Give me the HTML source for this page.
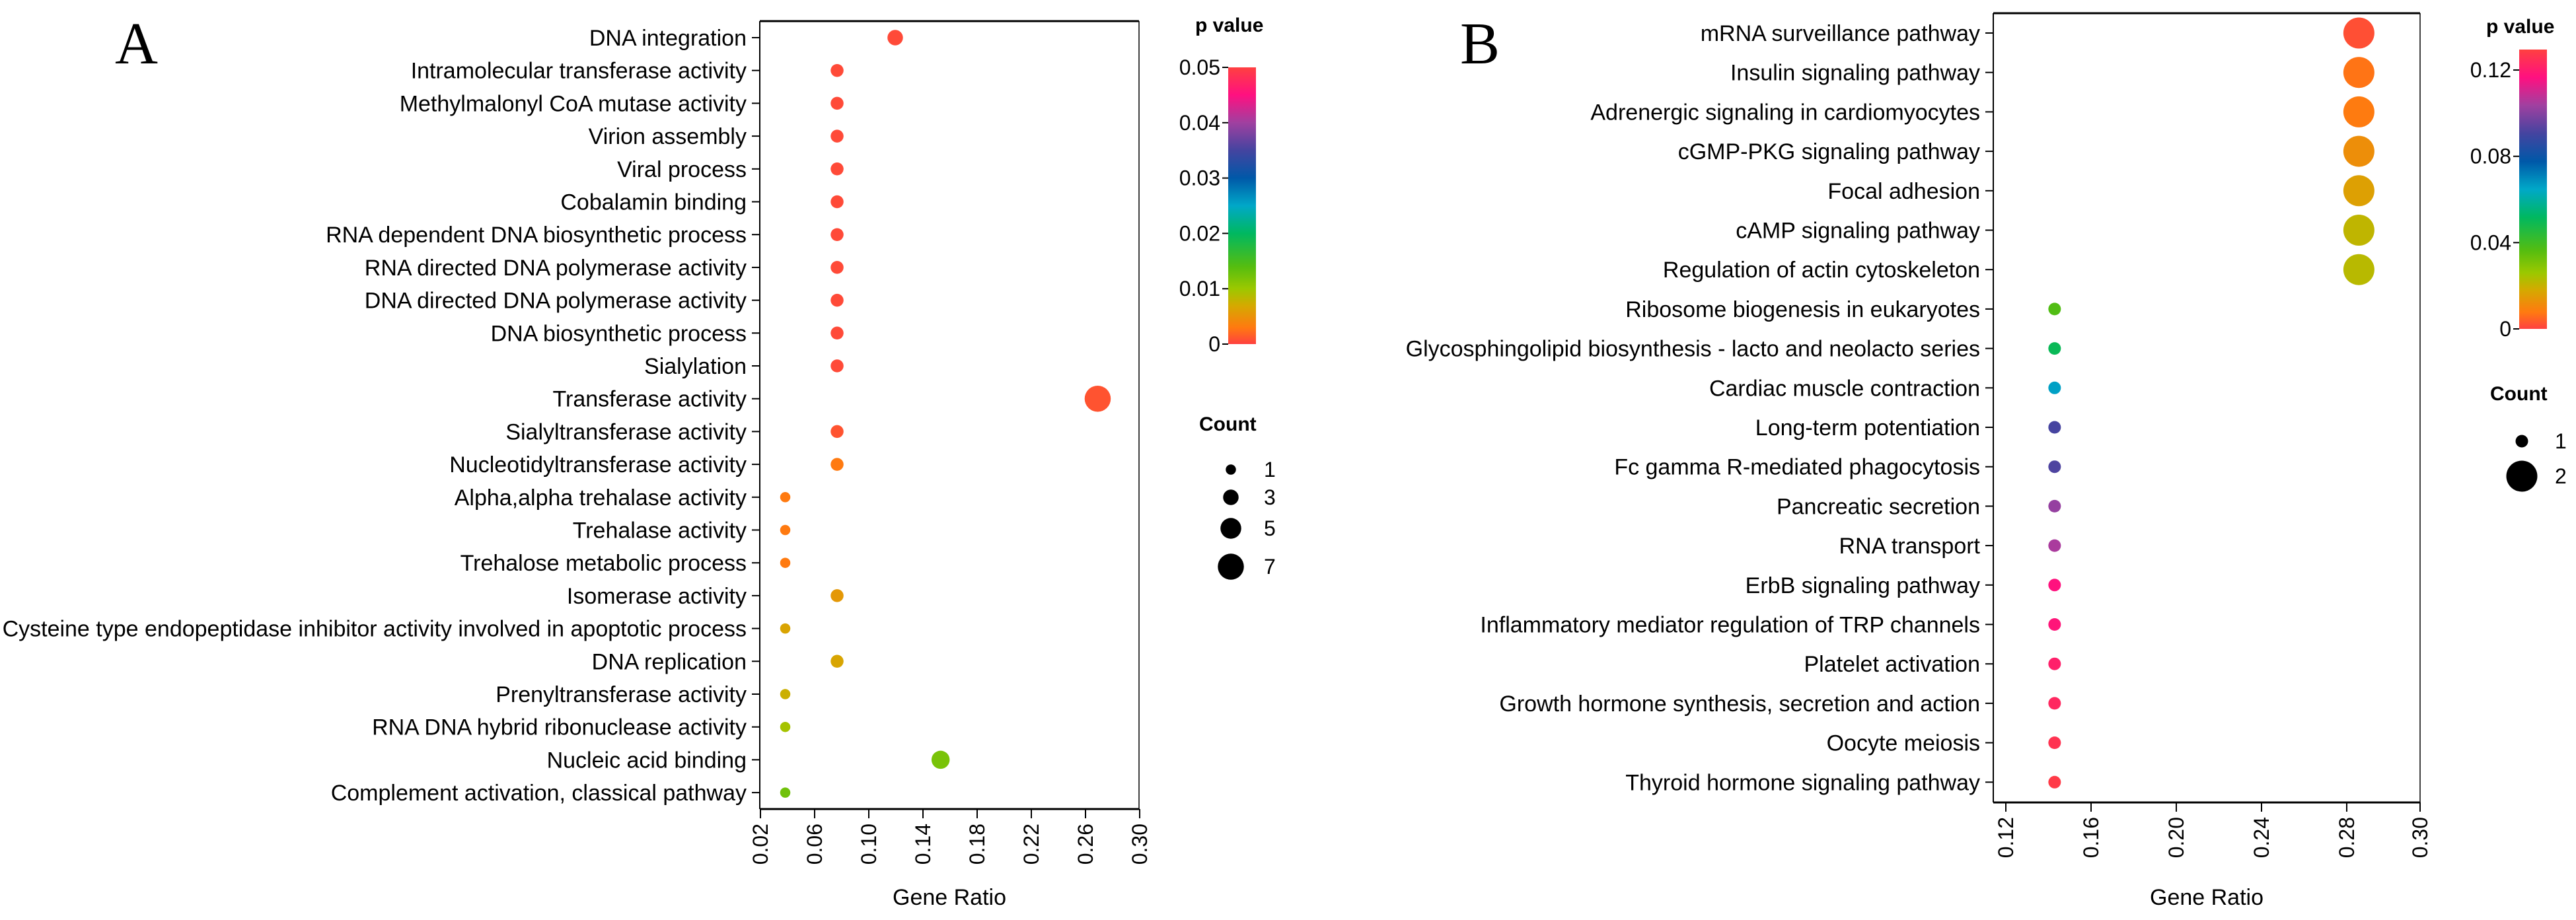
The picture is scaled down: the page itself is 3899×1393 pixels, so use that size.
<!DOCTYPE html>
<html><head><meta charset="utf-8"><style>
html,body{margin:0;padding:0;background:#fff;}
svg{display:block;font-family:"Liberation Sans",Arial,sans-serif;}
</style></head><body>
<svg id="c" width="3899" height="1393" viewBox="0 0 3899 1393" xmlns="http://www.w3.org/2000/svg">
<defs>
<linearGradient id="pg" x1="0" y1="1" x2="0" y2="0">
<stop offset="0" stop-color="#ff4040"/><stop offset="0.06" stop-color="#ff7a10"/><stop offset="0.14" stop-color="#d4aa00"/><stop offset="0.2" stop-color="#9cc800"/><stop offset="0.28" stop-color="#55bd10"/><stop offset="0.4" stop-color="#00b860"/><stop offset="0.5" stop-color="#00a8c8"/><stop offset="0.6" stop-color="#0058a8"/><stop offset="0.7" stop-color="#4444a0"/><stop offset="0.8" stop-color="#a040a0"/><stop offset="0.9" stop-color="#ff1080"/><stop offset="1" stop-color="#ff4040"/>
</linearGradient>
</defs>
<text x="174" y="96" font-family="Liberation Serif,serif" font-size="90">A</text>
<text x="2210" y="96" font-family="Liberation Serif,serif" font-size="90">B</text>
<g id="pa"></g>
<g id="pb"></g>
</svg>
<script>
const aTerms=["DNA integration","Intramolecular transferase activity","Methylmalonyl CoA mutase activity","Virion assembly","Viral process","Cobalamin binding","RNA dependent DNA biosynthetic process","RNA directed DNA polymerase activity","DNA directed DNA polymerase activity","DNA biosynthetic process","Sialylation","Transferase activity","Sialyltransferase activity","Nucleotidyltransferase activity","Alpha,alpha trehalase activity","Trehalase activity","Trehalose metabolic process","Isomerase activity","Cysteine type endopeptidase inhibitor activity involved in apoptotic process","DNA replication","Prenyltransferase activity","RNA DNA hybrid ribonuclease activity","Nucleic acid binding","Complement activation, classical pathway"];
const aRatio=[0.1195,0.0766,0.0766,0.0766,0.0766,0.0766,0.0766,0.0766,0.0766,0.0766,0.0766,0.269,0.0766,0.0766,0.0383,0.0383,0.0383,0.0766,0.0383,0.0766,0.0383,0.0383,0.153,0.0383];
const aCount=[3,2,2,2,2,2,2,2,2,2,2,7,2,2,1,1,1,2,1,2,1,1,4,1];
const aP=[0.0005,0.0005,0.0005,0.0005,0.0005,0.0005,0.0005,0.0005,0.0005,0.0005,0.0005,0.001,0.001,0.003,0.003,0.003,0.003,0.0055,0.0065,0.0066,0.0075,0.0095,0.012,0.0125];
const aTicks=[0.02,0.06,0.10,0.14,0.18,0.22,0.26,0.30];
const aTickLabels=["0.02","0.06","0.10","0.14","0.18","0.22","0.26","0.30"];
const aPTicks=[0,0.01,0.02,0.03,0.04,0.05];
const aPTickLabels=["0","0.01","0.02","0.03","0.04","0.05"];
const aLegendCounts=[1,3,5,7];

const bTerms=["mRNA surveillance pathway","Insulin signaling pathway","Adrenergic signaling in cardiomyocytes","cGMP-PKG signaling pathway","Focal adhesion","cAMP signaling pathway","Regulation of actin cytoskeleton","Ribosome biogenesis in eukaryotes","Glycosphingolipid biosynthesis - lacto and neolacto series","Cardiac muscle contraction","Long-term potentiation","Fc gamma R-mediated phagocytosis","Pancreatic secretion","RNA transport","ErbB signaling pathway","Inflammatory mediator regulation of TRP channels","Platelet activation","Growth hormone synthesis, secretion and action","Oocyte meiosis","Thyroid hormone signaling pathway"];
const bRatio=[0.2857,0.2857,0.2857,0.2857,0.2857,0.2857,0.2857,0.1429,0.1429,0.1429,0.1429,0.1429,0.1429,0.1429,0.1429,0.1429,0.1429,0.1429,0.1429,0.1429];
const bCount=[2,2,2,2,2,2,2,1,1,1,1,1,1,1,1,1,1,1,1,1];
const bP=[0.002,0.007,0.008,0.012,0.016,0.021,0.022,0.037,0.05,0.066,0.091,0.092,0.102,0.105,0.117,0.118,0.121,0.123,0.126,0.128];
const bTicks=[0.12,0.16,0.20,0.24,0.28];
const bTickLabels=["0.12","0.16","0.20","0.24","0.28"];
const bPTicks=[0,0.04,0.08,0.12];
const bPTickLabels=["0","0.04","0.08","0.12"];
const bLegendCounts=[1,2];

const NS="http://www.w3.org/2000/svg";
const stops=[[0,[255,64,64]],[0.06,[255,122,16]],[0.14,[212,170,0]],[0.2,[156,200,0]],[0.28,[85,189,16]],[0.4,[0,184,96]],[0.5,[0,168,200]],[0.6,[0,88,168]],[0.7,[68,68,160]],[0.8,[160,64,160]],[0.9,[255,16,128]],[1,[255,64,64]]];
function colorAt(f){f=Math.max(0,Math.min(1,f));for(let i=1;i<stops.length;i++){if(f<=stops[i][0]){const a=stops[i-1],b=stops[i];const t=(f-a[0])/(b[0]-a[0]);const c=a[1].map((v,k)=>Math.round(v+(b[1][k]-v)*t));return `rgb(${c.join(',')})`;}}return 'rgb(255,64,64)';}
function mk(parent,tag,attrs){const e=document.createElementNS(NS,tag);for(const k in attrs)e.setAttribute(k,attrs[k]);parent.appendChild(e);return e;}

function panel(g,o){
  const x=v=>o.x0+(v-o.v0)*o.k;
  const y=i=>o.yFirst+i*o.step;
  const f=mk(g,'g',{});
  
  
  mk(f,'line',{x1:o.L,y1:o.T,x2:o.R,y2:o.T,stroke:'#000','stroke-width':3});
  mk(f,'line',{x1:o.R,y1:o.T,x2:o.R,y2:o.B,stroke:'#000','stroke-width':1.5});
  mk(f,'line',{x1:o.L,y1:o.T,x2:o.L,y2:o.B,stroke:'#000','stroke-width':2});
  mk(f,'line',{x1:o.L,y1:o.B,x2:o.R,y2:o.B,stroke:'#000','stroke-width':3});
  o.terms.forEach((t,i)=>{
    const tk=mk(g,'line',{x1:o.L-12,y1:y(i),x2:o.L,y2:y(i),stroke:'#000','stroke-width':2});
    
    
    const tx=mk(g,'text',{x:o.L-20,y:y(i)+12,'text-anchor':'end','font-size':34});
    tx.textContent=t;
    
    
  });
  const xt=o.ticks.map((v,i)=>[x(v),o.tickLabels[i]]);
  if(o.endLabel)xt.push([o.R,o.endLabel]);
  xt.forEach(([px,lab])=>{
    const tk=mk(g,'line',{x1:px,y1:o.B,x2:px,y2:o.B+14,stroke:'#000','stroke-width':2});
    
    
    const tx=mk(g,'text',{x:0,y:0,'font-size':32,'text-anchor':'end',transform:`translate(${px+11},${o.B+22}) rotate(-90)`});
    tx.textContent=lab;
    
    
  });
  const xl=mk(g,'text',{x:(o.L+o.R)/2,y:1370,'text-anchor':'middle','font-size':34});
  xl.textContent='Gene Ratio';
  
  
  o.ratio.forEach((r,i)=>{
    const c=mk(g,'circle',{cx:x(r),cy:y(i),r:o.size(o.count[i])/2,fill:colorAt(o.p[i]/o.pMax)});
    
    
  });
  const pt=mk(g,'text',{x:o.cbX-50,y:o.titleY,'font-size':30,'font-weight':'bold'});
  pt.textContent='p value';
  
  
  const py=v=>o.cbB-(v/o.pMax)*(o.cbB-o.cbT);
  const bar=mk(g,'rect',{x:o.cbX,y:o.cbT,width:42,height:o.cbB-o.cbT,fill:'url(#pg)'});
  
  
  o.pTicks.forEach((v,i)=>{
    mk(g,'line',{x1:o.cbX-9,y1:py(v),x2:o.cbX,y2:py(v),stroke:'#000','stroke-width':2});
    const tx=mk(g,'text',{x:o.cbX-12,y:py(v)+11,'text-anchor':'end','font-size':32});
    tx.textContent=o.pTickLabels[i];
    
    
  });
  const ct=mk(g,'text',{x:o.cbX-44,y:o.countY,'font-size':30,'font-weight':'bold'});
  ct.textContent='Count';
  
  
  o.legendCounts.forEach((c,i)=>{
    const cy=o.legY[i];
    const d=mk(g,'circle',{cx:o.cbX+4,cy:cy,r:o.size(c)/2,fill:'#000'});
    
    
    const tx=mk(g,'text',{x:o.cbX+54,y:cy+11,'font-size':32});
    tx.textContent=String(c);
    
    
  });
}
panel(document.getElementById('pa'),{terms:aTerms,ratio:aRatio,count:aCount,p:aP,pMax:0.05,
  L:1150,R:1724,T:32,B:1225,x0:1151,v0:0.02,k:2050,yFirst:57,step:49.7,
  ticks:aTicks,tickLabels:aTickLabels,size:c=>11.5+4*c,
  cbX:1859,cbT:102,cbB:521,titleY:48,pTicks:aPTicks,pTickLabels:aPTickLabels,
  countY:652,legendCounts:aLegendCounts,legY:[711,753,800,858]});
panel(document.getElementById('pb'),{terms:bTerms,ratio:bRatio,count:bCount,p:bP,pMax:0.1295,
  L:3017,R:3663,T:20,B:1215,x0:3036,v0:0.12,k:3225,yFirst:50,step:59.7,endLabel:"0.30",
  ticks:bTicks,tickLabels:bTickLabels,size:c=>19+28*(c-1),
  cbX:3813,cbT:75,cbB:498,titleY:50,pTicks:bPTicks,pTickLabels:bPTickLabels,
  countY:606,legendCounts:bLegendCounts,legY:[668,721]});
</script>
</body></html>
